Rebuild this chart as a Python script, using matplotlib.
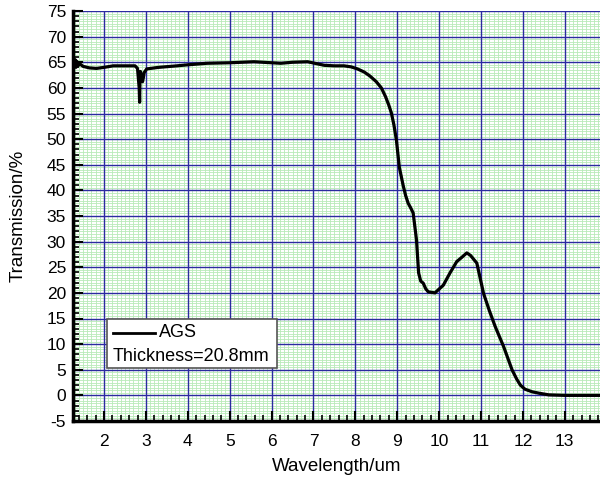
import matplotlib.pyplot as plt
import numpy as np
from matplotlib.patches import Rectangle
from matplotlib.lines import Line2D

plt.rcParams['font.family'] = ['Liberation Sans', 'DejaVu Sans']
plt.rcParams['axes.unicode_minus'] = False

# wavelength (um) and transmission (%)
wavelength = [1.27, 1.29, 1.31, 1.33, 1.35, 1.38, 1.42, 1.50, 1.65, 1.82, 2.00, 2.22,
              2.50, 2.74, 2.80, 2.84, 2.85, 2.86, 2.87, 2.89, 2.92, 2.94, 2.96, 3.02,
              3.30, 3.74, 4.00, 4.46, 5.00, 5.58, 6.00, 6.22, 6.50, 6.86, 7.26, 7.50,
              7.73, 7.90, 8.05, 8.21, 8.35, 8.50, 8.62, 8.72, 8.80, 8.86, 8.92, 8.98,
              9.05, 9.14, 9.20, 9.26, 9.32, 9.38, 9.46, 9.51, 9.56, 9.62, 9.68, 9.74,
              9.90, 10.10, 10.26, 10.42, 10.55, 10.66, 10.75, 10.90, 11.06, 11.20,
              11.34, 11.54, 11.74, 11.85, 11.94, 12.05, 12.22, 12.40, 12.62, 13.00, 13.84]
transmission = [65.8, 64.2, 65.5, 64.0, 65.2, 64.3, 64.7, 64.2, 63.9, 63.8, 64.0, 64.3,
                64.3, 64.3, 63.8, 60.0, 57.2, 62.0, 63.2, 62.5, 61.2, 62.0, 63.0, 63.7,
                64.0, 64.3, 64.5, 64.8, 64.9, 65.1, 64.9, 64.8, 65.0, 65.1, 64.4, 64.3,
                64.3, 64.1, 63.7, 63.1, 62.3, 61.2, 60.0, 58.3, 56.6, 55.1, 52.8, 49.8,
                44.5, 41.0, 39.0, 37.5, 36.6, 35.6, 30.3, 23.9, 22.3, 21.9, 20.8, 20.2,
                20.0, 21.5, 23.9, 26.1, 27.0, 27.8, 27.3, 25.8, 19.9, 16.5,
                13.4, 9.5, 5.0, 3.2, 2.0, 1.2, 0.7, 0.4, 0.1, 0.0, 0.0]

fig = plt.figure(figsize=(6.0, 4.82), dpi=100)
ax = fig.add_axes([73 / 600, 61 / 482, 527 / 600, 410 / 482])

ax.set_xlim(1.26, 13.84)
ax.set_ylim(-5, 75)

# fine green grid
for gx in np.arange(1.3, 13.9, 0.1):
    ax.axvline(gx, color='#b8eab8', lw=0.6, zorder=0)
for gy in np.arange(-5, 75, 0.5):
    ax.axhline(gy, color='#b8eab8', lw=0.6, zorder=0)

ax.set_xticks(np.arange(2, 14, 1))
ax.set_yticks(np.arange(-5, 76, 5))
ax.set_xticks(np.arange(1.4, 13.9, 0.2), minor=True)
ax.set_yticks(np.arange(-5, 76, 1), minor=True)
ax.grid(True, which='major', color='#2b2ba0', lw=1.0, zorder=1)

ax.plot(wavelength, transmission, color='black', lw=2.3, zorder=3)

ax.tick_params(which='major', direction='in', length=7, width=1.5, labelsize=12.5)
ax.tick_params(which='minor', direction='in', length=4, width=1.2)
ax.tick_params(axis='x', pad=9)
ax.tick_params(axis='y', pad=5)
for s in ['left', 'bottom']:
    ax.spines[s].set_linewidth(2.5)
for s in ['top', 'right']:
    ax.spines[s].set_visible(False)

ax.set_xlabel('Wavelength/um', fontsize=13.5, labelpad=7)
ax.set_ylabel('Transmission/%', fontsize=13.5, labelpad=14)

# legend box
box = Rectangle((0.0645, 0.13), 0.3225, 0.12, transform=ax.transAxes,
                facecolor='white', edgecolor='#555555', lw=1.2, zorder=4)
ax.add_patch(box)
ax.add_line(Line2D([0.075, 0.155], [0.215, 0.215], transform=ax.transAxes,
                   color='black', lw=2, zorder=5))
ax.text(0.163, 0.215, 'AGS', transform=ax.transAxes, fontsize=13,
        va='center', ha='left', zorder=5)
ax.text(0.075, 0.158, 'Thickness=20.8mm', transform=ax.transAxes, fontsize=13,
        va='center', ha='left', zorder=5)

fig.savefig('out.png', dpi=100)
